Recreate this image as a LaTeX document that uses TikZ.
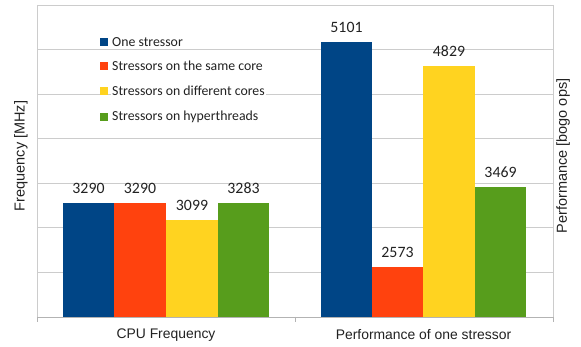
\documentclass[tikz,border=0pt]{standalone}
\usepackage{fontspec}
\setmainfont{Liberation Sans}
\newfontfamily\calfont{Carlito}
\definecolor{sblue}{HTML}{004586}
\definecolor{sred}{HTML}{FF420E}
\definecolor{syellow}{HTML}{FFD320}
\definecolor{sgreen}{HTML}{579D1C}
\definecolor{gridgray}{HTML}{CCCCCC}
\definecolor{axisgray}{HTML}{B3B3B3}
\definecolor{txt}{HTML}{222222}
\begin{document}
\begin{tikzpicture}[x=1pt,y=-1pt,
  gridline/.style={draw=gridgray,line width=0.8pt},
  axisline/.style={draw=axisgray,line width=0.8pt},
  val/.style={font=\calfont\fontsize{15.8}{18}\selectfont,text=txt,inner sep=0pt},
  legtext/.style={font=\calfont\fontsize{13.8}{16}\selectfont,text=txt,anchor=west,fill=white,inner xsep=1pt,inner ysep=0.3pt},
  legbox/.style={minimum size=8pt,inner sep=0pt},
  cat/.style={font=\fontsize{13.9}{16}\selectfont,text=txt,inner sep=0pt},
  ylab/.style={font=\fontsize{14.5}{16}\selectfont,text=txt,inner sep=0pt,rotate=90}]
\useasboundingbox (0,0) rectangle (581,347);
\fill[white] (0,0) rectangle (581,347);
% grid
\foreach \k in {1,...,7}{
  \draw[gridline] (37,{317-\k*44.57}) -- (553,{317-\k*44.57});
}
\draw[gridline] (37,5) -- (37,317);
\draw[gridline] (553,5) -- (553,322);
\draw[axisline] (37,317) -- (553,317);
\draw[axisline] (37,317) -- (37,322);
\draw[axisline] (295,317) -- (295,322);
\draw[axisline] (553,317) -- (553,322);
% CPU frequency bars
\fill[sblue] (63,317) rectangle (114,203);
\fill[sred] (114,317) rectangle (166,203);
\fill[syellow] (166,317) rectangle (218,220);
\fill[sgreen] (218,317) rectangle (269,203.5);
\node[val] (c1) at (88.5,188) {3290};
\node[val] (c2) at (140,188) {3290};
\node[val] (c3) at (192,205) {3099};
\node[val] (c4) at (243.5,188.5) {3283};
% Performance bars
\fill[sblue] (321,317) rectangle (372,42);
\fill[sred] (372,317) rectangle (423,267);
\fill[syellow] (423,317) rectangle (475,66);
\fill[sgreen] (475,317) rectangle (526,187);
\node[val] (p1) at (346.5,27) {5101};
\node[val] (p2) at (397.5,252) {2573};
\node[val] (p3) at (449,51) {4829};
\node[val] (p4) at (500.5,172) {3469};
% legend
\node[legtext] (l1) at (111,42) {One stressor};
\node[legtext] (l2) at (111,66) {Stressors on the same core};
\node[legtext] (l3) at (111,91) {Stressors on different cores};
\node[legtext] (l4) at (111,117) {Stressors on hyperthreads};
\node[legbox,fill=sblue] (b1) at (104,42) {};
\node[legbox,fill=sred] (b2) at (104,66) {};
\node[legbox,fill=syellow] (b3) at (104,91) {};
\node[legbox,fill=sgreen] (b4) at (104,117) {};
% category labels
\node[cat] (x1) at (166,335) {CPU Frequency};
\node[cat] (x2) at (423.5,335) {Performance of one stressor};
% axis titles
\node[ylab] (y1) at (21,156) {Frequency [MHz]};
\node[ylab] (y2) at (563,156) {Performance [bogo ops]};
\end{tikzpicture}
\end{document}
